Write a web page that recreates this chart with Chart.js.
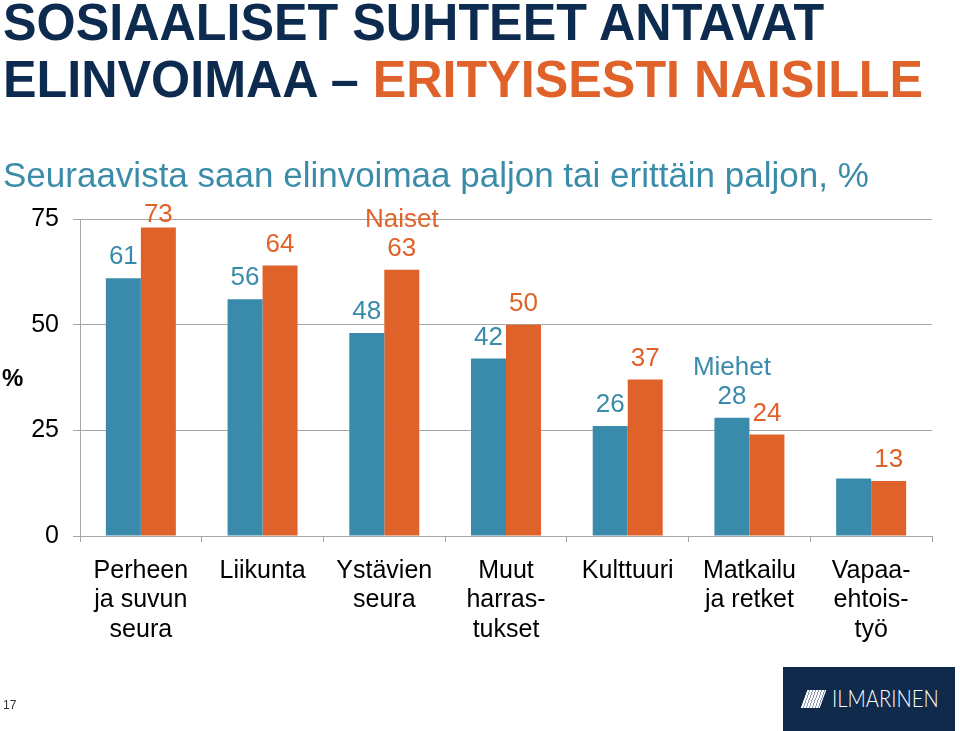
<!DOCTYPE html>
<html lang="fi">
<head>
<meta charset="utf-8">
<title>Sosiaaliset suhteet antavat elinvoimaa</title>
<script src="https://cdn.jsdelivr.net/npm/chart.js@4/dist/chart.umd.min.js"></script>
<style>
  html, body { margin: 0; padding: 0; background: #fff; }
  body { width: 960px; height: 731px; position: relative; overflow: hidden; font-family: Arial, "Liberation Sans", sans-serif; }
  #chart { position: absolute; left: 0; top: 0; }
  .txt { position: absolute; white-space: nowrap; }
  #title { left: 3px; top: -6px; font-size: 52px; font-weight: bold; color: #0d2b4e; line-height: 57px;
    transform: scaleX(0.967); transform-origin: left top; }
  #title .hl { color: #e0622b; }
  #subtitle { left: 3px; top: 155px; font-size: 35px; color: #3b8ca9; }
  #ylab { left: 2px; top: 364px; font-size: 24px; font-weight: bold; color: #000; }
  #page { left: 3px; top: 698px; font-size: 12px; color: #333; }
  #logo { position: absolute; left: 783px; top: 667px; width: 172px; height: 64px; background: #0f2a4b; }
  #logo .mark { position: absolute; left: 21px; top: 23px; width: 19px; height: 18px; transform: skewX(-20deg);
    background: repeating-linear-gradient(90deg, #fff 0 2px, #8d9bb0 2px 3px); }
  #logo .name { position: absolute; left: 49px; top: 17px; font-family: Lato, "Open Sans", sans-serif; font-weight: 300;
    font-size: 24px; line-height: 28px; color: #fff; transform: scaleX(0.84); transform-origin: left top; }
</style>
</head>
<body>
<canvas id="chart" width="960" height="731"></canvas>
<div id="title" class="txt">SOSIAALISET SUHTEET ANTAVAT<br>ELINVOIMAA – <span class="hl">ERITYISESTI NAISILLE</span></div>
<div id="subtitle" class="txt">Seuraavista saan elinvoimaa paljon tai erittäin paljon, %</div>
<div id="ylab" class="txt">%</div>
<div id="page" class="txt">17</div>
<div id="logo"><div class="mark"></div><div class="name">ILMARINEN</div></div>

<script>
// aineisto
const categories = [
  ['Perheen', 'ja suvun', 'seura'],
  ['Liikunta'],
  ['Ystävien', 'seura'],
  ['Muut', 'harras-', 'tukset'],
  ['Kulttuuri'],
  ['Matkailu', 'ja retket'],
  ['Vapaa-', 'ehtois-', 'työ']
];
const miehet = [61, 56, 48, 42, 26, 28, 13.6];
const naiset = [73, 64, 63, 50, 37, 24, 13];
const miehetLabels = ['61', '56', '48', '42', '26', '28', ''];
const naisetLabels = ['73', '64', '63', '50', '37', '24', '13'];
const yTicks = [0, 25, 50, 75];

const BLUE = '#3a8bab';
const ORANGE = '#e0622b';
const GRID = '#a6a6a6';
const FONT = 'Arial, "Liberation Sans", sans-serif';

// arvot pylväiden päälle + sarjojen nimet
const valueLabels = {
  id: 'valueLabels',
  afterDatasetsDraw(chart) {
    const ctx = chart.ctx;
    const top = chart.chartArea.top;
    ctx.save();
    ctx.font = '26px ' + FONT;
    ctx.textAlign = 'center';
    ctx.textBaseline = 'middle';
    chart.data.datasets.forEach((ds, di) => {
      const meta = chart.getDatasetMeta(di);
      meta.data.forEach((bar, i) => {
        const txt = ds.valueLabels[i];
        if (!txt) return;
        const y = Math.max(bar.y - 21, top - 4);
        ctx.fillStyle = ds.backgroundColor;
        ctx.fillText(txt, bar.x, y);
        if (ds.nameAt === i) ctx.fillText(ds.label, bar.x, y - 29);
      });
    });
    ctx.restore();
  }
};

new Chart(document.getElementById('chart'), {
  type: 'bar',
  data: {
    labels: categories,
    datasets: [
      { label: 'Miehet', data: miehet, backgroundColor: BLUE, valueLabels: miehetLabels, nameAt: 5 },
      { label: 'Naiset', data: naiset, backgroundColor: ORANGE, valueLabels: naisetLabels, nameAt: 2 }
    ]
  },
  options: {
    responsive: false,
    animation: false,
    devicePixelRatio: 1,
    categoryPercentage: 0.575,
    barPercentage: 1,
    layout: { padding: { left: 0, right: 28, top: 219, bottom: 0 } },
    plugins: { legend: { display: false }, tooltip: { enabled: false } },
    scales: {
      x: {
        grid: { offset: true, drawOnChartArea: false, drawTicks: true, tickLength: 6, color: GRID },
        border: { display: true, color: GRID },
        ticks: { color: '#000', font: { family: FONT, size: 25, lineHeight: 1.18 }, padding: 14,
                  maxRotation: 0, autoSkip: false },
        afterFit(scale) { scale.height = 195; }
      },
      y: {
        min: 0, max: 75,
        afterBuildTicks(scale) { scale.ticks = yTicks.map(v => ({ value: v })); },
        grid: { color: GRID, tickLength: 7 },
        border: { display: true, color: GRID },
        ticks: { color: '#000', font: { family: FONT, size: 25 }, padding: 14 },
        afterFit(scale) { scale.width = 80; }
      }
    }
  },
  plugins: [valueLabels]
});
</script>
</body>
</html>
